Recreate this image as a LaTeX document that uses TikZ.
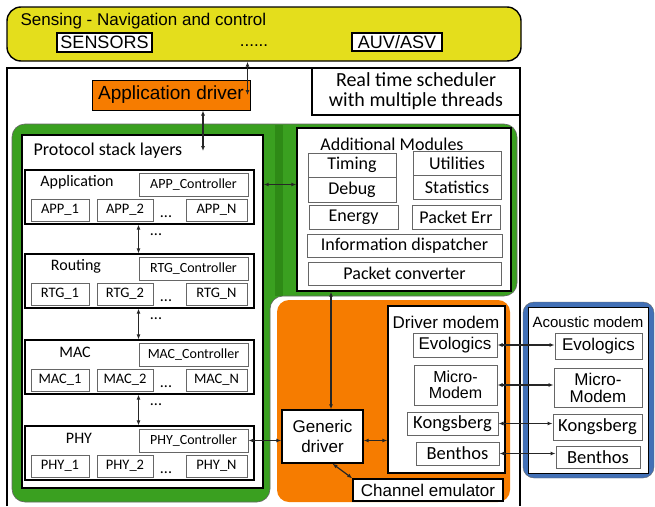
\documentclass[tikz,border=0pt]{standalone}
\usepackage{fontspec}
\setmainfont{Carlito}
\newfontfamily\arialf{Liberation Sans}
\usetikzlibrary{arrows.meta}

\definecolor{sensey}{RGB}{228,222,28}
\definecolor{drvorange}{RGB}{246,124,0}
\definecolor{stackgreen}{RGB}{58,160,32}
\definecolor{stackgreendk}{RGB}{46,138,22}
\definecolor{modemblue}{RGB}{66,112,182}

\tikzset{
  box/.style={draw, fill=white, line width=1.4pt, inner sep=0pt, align=center},
  sub/.style={draw=black!60, fill=white, line width=1pt, inner sep=0pt, align=center},
  arr/.style={{Latex[length=5pt,width=4pt]}-{Latex[length=5pt,width=4pt]}, line width=1.2pt, draw=black!85},
  af/.style={font=\arialf\fontsize{#1}{#1}\selectfont},
  cf/.style={font=\fontsize{#1}{#1}\selectfont},
}

% box from its corners: name, x1, y1, x2, y2, style, text
\newcommand{\boxat}[7]{%
  \node[#6, minimum width={#4-#2}, minimum height={#5-#3}] (#1) at ({(#2+#4)/2},{(#3+#5)/2}) {#7};}

\begin{document}
\begin{tikzpicture}[x=1pt, y=-1pt]
\useasboundingbox (0,0) rectangle (655,506);

% sensing and navigation
\boxat{sense}{7}{7}{521}{61}{box, fill=sensey, rounded corners=14}{}
\node[af=17, anchor=west] (senset) at (17,21) {Sensing - Navigation and control};
\boxat{sens}{57}{33}{152}{52}{box, line width=1.2pt, af=18}{SENSORS}
\node[af=17] (more) at (254,46) {......};
\boxat{auv}{352}{33}{442}{51}{box, line width=1.2pt, af=18}{AUV/ASV}

% scheduler frame
\draw[line width=1.4pt] (7,506) -- (7,68) -- (520,68) -- (520,506);
\boxat{rts}{312}{68}{520}{115}{box, font=\fontsize{20}{20}\selectfont}{Real time scheduler\\with multiple threads}
\boxat{appdrv}{92}{80}{250}{110}{box, line width=1pt, fill=drvorange, af=19}{Application driver}

% green part
\fill[stackgreen, draw=black!60, line width=0.6pt, rounded corners=13] (12,124) -- (517,124) -- (517,296) -- (270,296) -- (270,502) -- (12,502) -- cycle;
\fill[stackgreendk] (275,124.5) rectangle (283,295.5);

% protocol stack
\boxat{pbox}{22}{135}{263}{488}{box}{}
\node[cf=18, anchor=west] (ptitle) at (30,151) {Protocol stack layers};
\foreach \t/\lname/\pre/\lx [count=\i] in {170/Application/APP/77, 254/Routing/RTG/76, 340/MAC/MAC/75, 426/PHY/PHY/79}{
  \node[box, line width=1.2pt, minimum width=229, minimum height=54] (L\i) at (139.5,\t+27) {};
  \node[cf=16] (N\i) at (\lx,\t+12) {\lname};
  \node[sub, cf=14, minimum width=109, minimum height=23] (C\i) at (193.5,\t+14.5) {\pre\_Controller};
  \node[sub, cf=14.5, minimum width=58, minimum height=22] (A\i) at (60,\t+40) {\pre\_1};
  \node[sub, cf=14.5, minimum width=56, minimum height=22] (B\i) at (125,\t+40) {\pre\_2};
  \node[cf=16] (D\i) at (166,\t+47) {...};
  \node[sub, cf=14.5, minimum width=61, minimum height=22] (Z\i) at (216.5,\t+40) {\pre\_N};
}
\foreach \i/\j/\t in {1/2/170, 2/3/254, 3/4/340}{
  \draw[arr] (L\i.south -| C\i.west) -- (L\j.north -| C\i.west);
  \node[cf=16] (G\i) at (156,\t+65) {...};
}

% additional modules
\boxat{addm}{297}{128}{511}{291}{box}{}
\node[cf=18] (addt) at (392,144) {Additional Modules};
\boxat{tim}{308}{153}{396}{177}{sub, cf=18}{Timing}
\boxat{dbg}{308}{177}{396}{202}{sub, cf=18}{Debug}
\boxat{utl}{413}{151}{501}{175}{sub, cf=18}{Utilities}
\boxat{sta}{413}{175}{501}{199}{sub, cf=18}{Statistics}
\boxat{ene}{309}{205}{398}{229}{sub, cf=18}{Energy}
\boxat{per}{412}{205}{500}{229}{sub, cf=18}{Packet Err}
\boxat{inf}{307}{234}{502}{257}{sub, cf=18}{Information dispatcher}
\boxat{pcv}{308}{262}{501}{285}{sub, cf=18}{Packet converter}

% drivers
\fill[drvorange, rounded corners=12] (277,300) rectangle (510,502);
\boxat{gen}{282}{410}{363}{463}{box, font=\arialf\fontsize{17}{20}\selectfont}{Generic\\driver}
\boxat{drv}{388}{306}{505}{473}{box}{}
\node[af=17] (drvt) at (446,322) {Driver modem};
\boxat{devo}{413}{333}{497}{357}{sub, af=17}{Evologics}
\boxat{dmic}{414}{365}{497}{405}{sub, font=\arialf\fontsize{16}{16.5}\selectfont}{Micro-\\Modem}
\boxat{dkon}{407}{412}{498}{435}{sub, cf=18.5}{Kongsberg}
\boxat{dben}{416}{442}{499}{465}{sub, cf=18.5}{Benthos}
\boxat{chan}{353}{479}{503}{501}{box, af=17}{Channel emulator}

% acoustic modem
\draw[draw=black!60, fill=modemblue, rounded corners=11] (523,302) rectangle (654,478);
\boxat{acm}{528}{307}{648}{473}{box, line width=1pt}{}
\node[af=15] (acmt) at (588,322) {Acoustic modem};
\boxat{aevo}{555}{333}{642}{359}{sub, af=17}{Evologics}
\boxat{amic}{554}{368}{642}{407}{sub, font=\arialf\fontsize{17}{17}\selectfont}{Micro-\\Modem}
\boxat{akon}{553}{414}{642}{440}{sub, cf=18.5}{Kongsberg}
\boxat{aben}{556}{446}{640}{468}{sub, cf=18.5}{Benthos}

% connectors
\draw[arr] ([xshift=-3pt]appdrv.east |- sense.south) -- ([xshift=-3pt]appdrv.east);
\draw[arr] ([xshift=32pt]appdrv.south) -- ([xshift=32pt]appdrv.south |- ptitle.east);
\draw[arr] (pbox.east |- C1) -- (addm.west |- C1);
\draw[arr] ([xshift=8.5pt]gen.north |- addm.south) -- ([xshift=8.5pt]gen.north);
\draw[arr] (C4.east) -- (gen.west |- C4.east);
\draw[arr] (gen.east |- C4.east) -- (drv.west |- C4.east);
\draw[arr] (chan.north west) -- ([xshift=10pt]gen.south);
\draw[arr] (devo.east) -- (aevo.west |- devo.east);
\draw[arr] (dmic.east) -- (amic.west |- dmic.east);
\draw[arr] (dkon.east) -- (akon.west |- dkon.east);
\draw[arr] (dben.east) -- (aben.west |- dben.east);
\end{tikzpicture}
\end{document}
